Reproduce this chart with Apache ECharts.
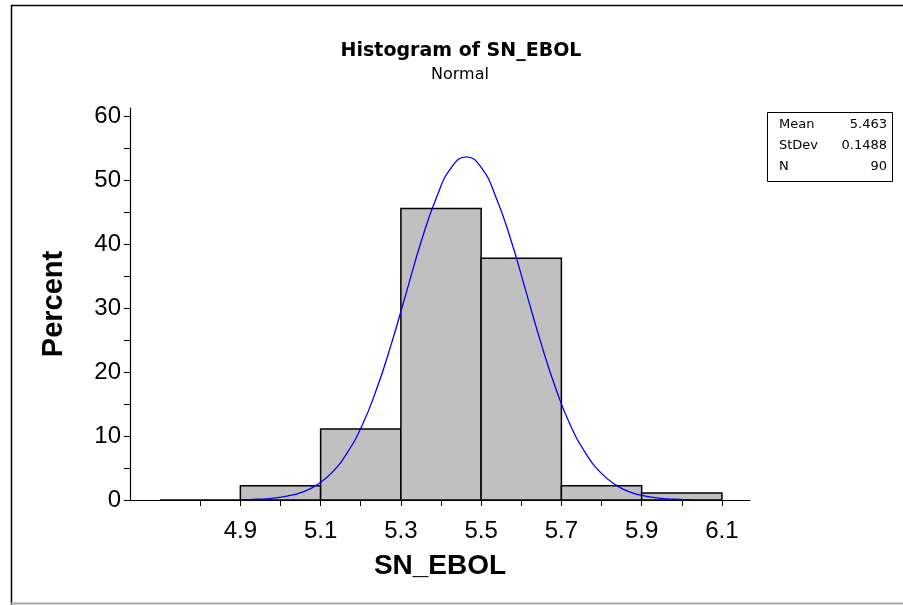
<!DOCTYPE html>
<html>
<head>
<meta charset="utf-8">
<script src="https://cdn.jsdelivr.net/npm/echarts@6/dist/echarts.min.js"></script>
<style>html,body{margin:0;padding:0;background:#fff}#c{width:903px;height:605px}</style>
</head>
<body>
<div id="c"></div>
<script>
// ---- data ----
var binLower = [4.7, 4.9, 5.1, 5.3, 5.5, 5.7, 5.9];
var binUpper = [4.9, 5.1, 5.3, 5.5, 5.7, 5.9, 6.1];
var binPercent = [0, 2.22, 11.11, 45.56, 37.78, 2.22, 1.11];
var curveX = [4.900, 4.905, 4.942, 4.979, 5.017, 5.054, 5.091, 5.128, 5.165, 5.203, 5.240, 5.277, 5.314, 5.351, 5.389, 5.426, 5.463,
              5.500, 5.537, 5.575, 5.612, 5.649, 5.686, 5.723, 5.761, 5.798, 5.835, 5.872, 5.909, 5.947, 5.984, 6.021, 6.025];
var curveY = [0.04, 0.05, 0.12, 0.27, 0.60, 1.22, 2.36, 4.27, 7.26, 11.60, 17.41, 24.55, 32.52, 40.47, 47.32, 51.97, 53.62,
              51.97, 47.32, 40.47, 32.52, 24.55, 17.41, 11.60, 7.26, 4.27, 2.36, 1.22, 0.60, 0.27, 0.12, 0.05, 0.04];
var xTickLabels = [4.9, 5.1, 5.3, 5.5, 5.7, 5.9, 6.1];
var xMinorTicks = [4.8, 4.9, 5.0, 5.1, 5.2, 5.3, 5.4, 5.5, 5.6, 5.7, 5.8, 5.9, 6.0, 6.1];
var yTickLabels = [0, 10, 20, 30, 40, 50, 60];
var yTicks = [0, 5, 10, 15, 20, 25, 30, 35, 40, 45, 50, 55, 60];
var statNames = ['Mean', 'StDev', 'N'];
var statValues = ['5.463', '0.1488', '90'];

var chart = echarts.init(document.getElementById('c'));
var FONT = '"Liberation Sans", Arial, sans-serif';
var WIDE = '"DejaVu Sans", Verdana, sans-serif';

var histData = binLower.map(function (l, i) { return [l, binUpper[i], binPercent[i]]; });
var curveData = curveX.map(function (x, i) { return [x, curveY[i]]; });

var graphics = [
  { type: 'polyline', shape: { points: [[11.5, 700], [11.5, 5.5], [1000, 5.5]] }, style: { stroke: '#000', lineWidth: 1.5, fill: null }, silent: true },
  { type: 'line', shape: { x1: 11, y1: 603.5, x2: 903, y2: 603.5 }, style: { stroke: '#aaa', lineWidth: 2 }, silent: true },
  { type: 'text', x: 461, y: 51, style: { text: 'Histogram of SN_EBOL', font: 'bold 19px ' + WIDE, fill: '#000', align: 'center', verticalAlign: 'middle' } },
  { type: 'text', x: 460, y: 75, style: { text: 'Normal', font: '16px ' + WIDE, fill: '#000', align: 'center', verticalAlign: 'middle' } },
  { type: 'rect', shape: { x: 767.5, y: 112.5, width: 125, height: 69 }, style: { fill: '#fff', stroke: '#000', lineWidth: 1 } }
];
statNames.forEach(function (n, i) {
  graphics.push({ type: 'text', x: 779, y: 125 + i * 21, style: { text: n, font: '13px ' + WIDE, fill: '#000', align: 'left', verticalAlign: 'middle' } });
  graphics.push({ type: 'text', x: 887, y: 125 + i * 21, style: { text: statValues[i], font: '13px ' + WIDE, fill: '#000', align: 'right', verticalAlign: 'middle' } });
});

chart.setOption({
  animation: false,
  backgroundColor: '#fff',
  grid: { left: 130, right: 153, top: 108, bottom: 105, containLabel: false },
  xAxis: {
    type: 'value', min: 4.625, max: 6.17,
    name: 'SN_EBOL', nameLocation: 'middle', nameGap: 52,
    nameTextStyle: { fontFamily: FONT, fontSize: 28, fontWeight: 'bold', color: '#000' },
    axisLine: { show: true, onZero: false, lineStyle: { color: '#000', width: 1.2 } },
    axisTick: { show: true, length: 6, inside: false, customValues: xMinorTicks, lineStyle: { color: '#000' } },
    axisLabel: { customValues: xTickLabels, margin: 19, fontFamily: FONT, fontSize: 24, color: '#000',
                 formatter: function (v) { return v.toFixed(1); } },
    splitLine: { show: false }
  },
  yAxis: {
    type: 'value', min: 0, max: 61.25,
    name: 'Percent', nameLocation: 'middle', nameGap: 62, nameRotate: 90,
    nameTextStyle: { fontFamily: FONT, fontSize: 29, fontWeight: 'bold', color: '#000' },
    axisLine: { show: true, onZero: false, lineStyle: { color: '#000', width: 1.2 } },
    axisTick: { show: true, length: 6, inside: false, customValues: yTicks, lineStyle: { color: '#000' } },
    axisLabel: { customValues: yTickLabels, margin: 9, fontFamily: FONT, fontSize: 24, color: '#000' },
    splitLine: { show: false }
  },
  graphic: graphics,
  series: [
    {
      type: 'custom',
      data: histData,
      encode: { x: [0, 1], y: 2 },
      renderItem: function (params, api) {
        var p0 = api.coord([api.value(0), api.value(2)]);
        var p1 = api.coord([api.value(1), 0]);
        return {
          type: 'rect',
          shape: { x: p0[0], y: p0[1], width: p1[0] - p0[0], height: p1[1] - p0[1] },
          style: { fill: '#c0c0c0', stroke: '#000', lineWidth: 1.5 }
        };
      },
      z: 1
    },
    {
      type: 'line',
      data: curveData,
      smooth: true,
      showSymbol: false,
      lineStyle: { color: '#0000ff', width: 1.3 },
      z: 3
    }
  ]
});
</script>
</body>
</html>
